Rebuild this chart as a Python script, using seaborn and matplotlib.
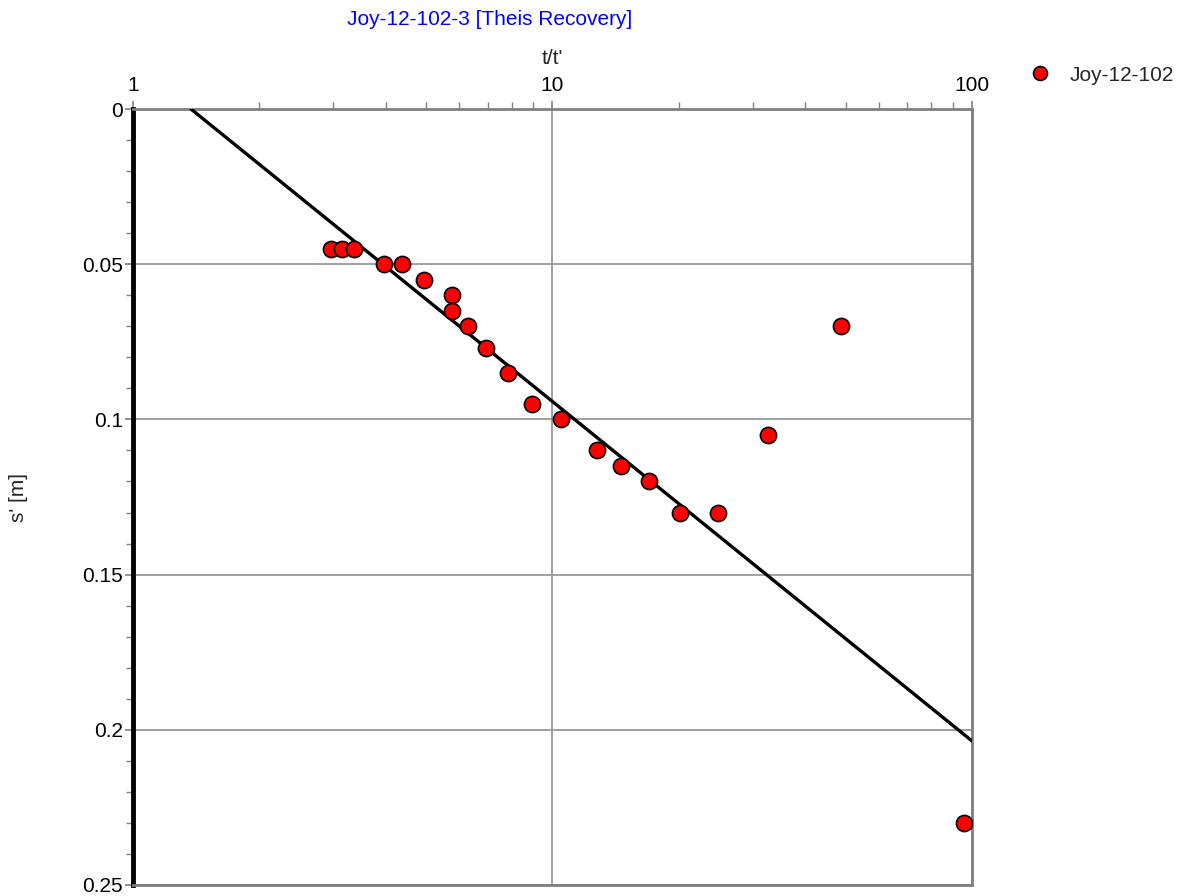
import matplotlib
matplotlib.use("Agg")
import matplotlib.pyplot as plt
import seaborn as sns
import pandas as pd
from matplotlib.ticker import FixedLocator, MultipleLocator, LogLocator, NullFormatter
from matplotlib.lines import Line2D

# Data
t_ratio = [2.96, 3.15, 3.36, 3.97, 4.38, 4.94, 5.76, 5.76, 6.29, 6.94, 7.83, 8.93,
           10.5, 12.8, 14.6, 17.0, 20.1, 24.8, 32.6, 48.7, 95.7]
s_prime = [0.045, 0.045, 0.045, 0.050, 0.050, 0.055, 0.060, 0.065, 0.070, 0.077, 0.085, 0.095,
           0.100, 0.110, 0.115, 0.120, 0.130, 0.130, 0.105, 0.070, 0.230]
fit_x = [1.375, 100.0]
fit_s = [0.0, 0.2036]
series_name = "Joy-12-102"
title = "Joy-12-102-3 [Theis Recovery]"
x_ticks = [1, 10, 100]
y_ticks = [0, 0.05, 0.1, 0.15, 0.2, 0.25]
y_ticklabels = ["0", "0.05", "0.1", "0.15", "0.2", "0.25"]

sns.set_theme(style="white")
plt.rcParams['font.family'] = ['Liberation Sans', 'DejaVu Sans']

df = pd.DataFrame({"t": t_ratio, "s": s_prime, "series": series_name})
fit_df = pd.DataFrame({"t": fit_x, "s": fit_s})

fig = plt.figure(figsize=(11.99, 8.96), dpi=100)
ax = fig.add_axes([0.1109, 0.0123, 0.6998, 0.866])

ax.set_xscale("log")
sns.lineplot(data=fit_df, x="t", y="s", ax=ax, color="black", linewidth=2.4, zorder=3, legend=False)
sns.scatterplot(data=df, x="t", y="s", ax=ax, color="#ff0000", edgecolor="black",
                linewidth=1.2, s=135, zorder=4, legend=False)

ax.set_xlim(1, 100)
ax.set_ylim(0.25, 0)

ax.xaxis.tick_top()
ax.xaxis.set_label_position("top")
ax.xaxis.set_major_locator(FixedLocator(x_ticks))
ax.set_xticklabels([str(v) for v in x_ticks])
ax.xaxis.set_minor_locator(LogLocator(base=10, subs=range(2, 10)))
ax.xaxis.set_minor_formatter(NullFormatter())
ax.yaxis.set_major_locator(FixedLocator(y_ticks))
ax.set_yticklabels(y_ticklabels)
ax.yaxis.set_minor_locator(MultipleLocator(0.01))

ax.tick_params(axis="both", which="major", length=6, width=1.2, color="#808080",
               labelsize=15, labelcolor="black", pad=1, direction="out")
ax.tick_params(axis="x", which="major", pad=4)
ax.tick_params(axis="both", which="minor", length=5, width=1.0, color="#808080", direction="out")
ax.tick_params(axis="x", which="both", top=True, bottom=False)
ax.tick_params(axis="y", which="both", left=True, right=False)

ax.grid(True, which="major", color="#999999", linewidth=1.3)
ax.set_axisbelow(True)

for side in ["top", "right", "bottom"]:
    ax.spines[side].set_color("#808080")
    ax.spines[side].set_linewidth(2.0)
ax.spines["left"].set_color("black")
ax.spines["left"].set_linewidth(3.5)

ax.set_xlabel("t/t'", fontsize=15, labelpad=9)
ax.set_ylabel("s' [m]", fontsize=15)
ax.yaxis.set_label_coords(-0.125, 0.5)

fig.text(0.408, 0.978, title, color="#0000ff", fontsize=15, ha="center", va="center")

handle = Line2D([], [], marker="o", linestyle="none", markerfacecolor="#ff0000",
                markeredgecolor="black", markersize=10, markeredgewidth=1.2)
fig.legend([handle], [series_name], loc="center left", bbox_to_anchor=(0.850, 0.916),
           frameon=False, fontsize=15, handletextpad=0.8, handlelength=1.2, borderaxespad=0)

fig.savefig("out.png", dpi=100)
